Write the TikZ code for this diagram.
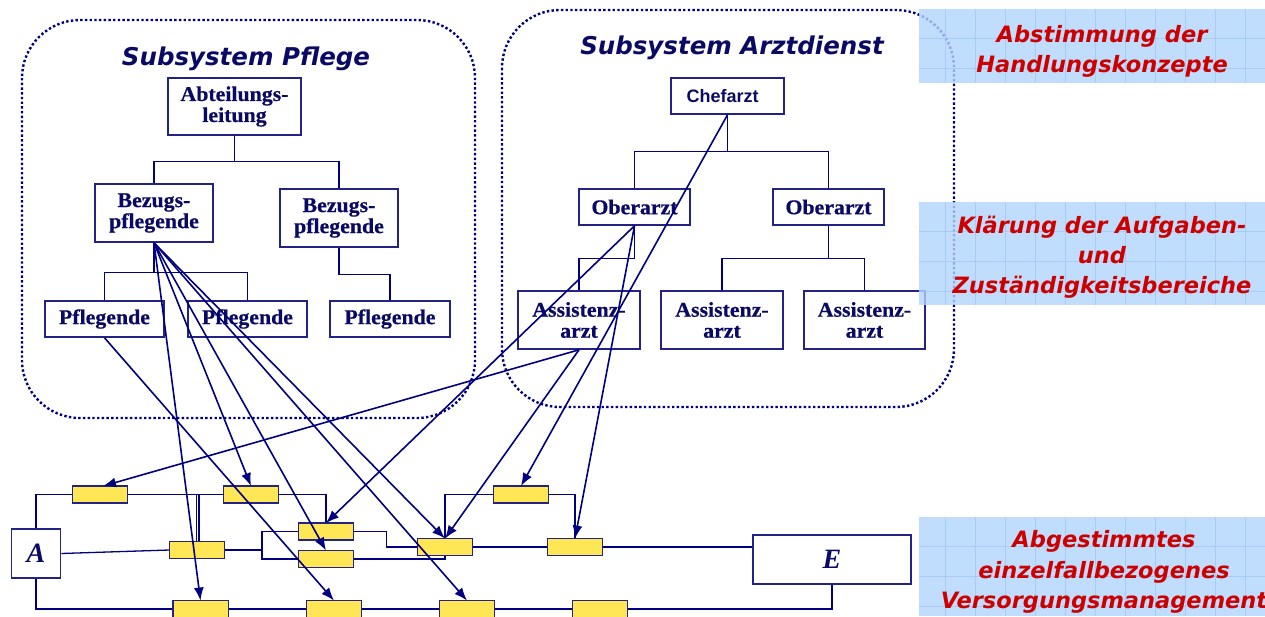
\documentclass[tikz,border=0pt]{standalone}
\usepackage{fontspec}
\setmainfont{Liberation Serif}
\newfontfamily\verd{DejaVu Sans}
\newfontfamily\arialf{Liberation Sans}
\newfontfamily\nodeserif[FakeStretch=1.04,FakeBold=0.6]{Liberation Serif}
\usetikzlibrary{arrows.meta}
\definecolor{navyl}{RGB}{0,0,128}
\definecolor{boxc}{RGB}{35,35,135}
\definecolor{txtc}{RGB}{10,10,100}
\definecolor{yel}{RGB}{255,230,85}
\definecolor{redt}{RGB}{205,0,0}
\definecolor{pan}{RGB}{178,212,252}
\definecolor{grd}{RGB}{158,196,245}
\begin{document}
\begin{tikzpicture}[x=1pt,y=-1pt,
  org/.style={draw=boxc, line width=1.6pt, fill=white, inner sep=0pt, align=center, text=txtc, font=\nodeserif\bfseries\fontsize{21}{21}\selectfont},
  pbox/.style={draw=boxc, line width=1.4pt, fill=yel, minimum width=54pt, minimum height=15.5pt, inner sep=0pt},
  conn/.style={draw=navyl, line width=1.3pt},
  arr/.style={draw=navyl, line width=1.6pt, -{Latex[length=13pt,width=10pt]}},
  dotbox/.style={draw=navyl, line width=2.4pt, dash pattern=on 2.4pt off 2.3pt, rounded corners=58pt},
  rtext/.style={text=redt, font=\verd\bfseries\itshape\fontsize{22.5}{30}\selectfont, anchor=base},
  ttl/.style={text=txtc, font=\verd\bfseries\itshape\fontsize{24.5}{28}\selectfont, anchor=base},
  term/.style={draw=boxc, line width=1.6pt, fill=white, inner sep=0pt, text=txtc, font=\bfseries\itshape\fontsize{28}{28}\selectfont}
]
\useasboundingbox (0,0) rectangle (1265,616);

% subsystem frames
\draw[dotbox] (22,20) rectangle (475,418);
\draw[dotbox] (502,10) rectangle (954,407);
\node[ttl] (tp) at (246,65) {Subsystem Pflege};
\node[ttl] (ta) at (732,54) {Subsystem Arztdienst};

% Pflege hierarchy
\node[org, minimum width=133pt, minimum height=57pt] (abt) at (234.5,106.5) {Abteilungs-\\leitung};
\node[org, minimum width=118pt, minimum height=58pt] (bz1) at (154,213) {Bezugs-\\pflegende};
\node[org, minimum width=118pt, minimum height=58pt] (bz2) at (339,218) {Bezugs-\\pflegende};
\node[org, minimum width=119pt, minimum height=36pt] (pf1) at (104.5,319) {Pflegende};
\node[org, minimum width=119pt, minimum height=36pt] (pf2) at (247.5,319) {Pflegende};
\node[org, minimum width=120pt, minimum height=36pt] (pf3) at (390,319) {Pflegende};
\draw[conn] (abt.south) -- ++(0,26) -| (bz1.north);
\draw[conn] (abt.south) -- ++(0,26) -| (bz2.north);
\draw[conn] (bz1.south) -- ++(0,30) -| (pf1.north);
\draw[conn] (bz1.south) -- ++(0,30) -| (pf2.north);
\draw[conn] (bz2.south) -- ++(0,27) -| (pf3.north);

% Arztdienst hierarchy
\node[org, minimum width=113pt, minimum height=36pt, font=\arialf\bfseries\fontsize{18}{18}\selectfont] (chef) at (727.5,96) {Chefarzt\hspace*{10pt}};
\node[org, minimum width=111pt, minimum height=36pt] (ob1) at (634.5,207) {Oberarzt};
\node[org, minimum width=111pt, minimum height=36pt] (ob2) at (828.5,207) {Oberarzt};
\node[org, minimum width=122pt, minimum height=58pt] (as1) at (579,320) {Assistenz-\\arzt};
\node[org, minimum width=122pt, minimum height=58pt] (as2) at (722,320) {Assistenz-\\arzt};
\node[org, minimum width=121pt, minimum height=58pt] (as3) at (864.5,320) {Assistenz-\\arzt};
\draw[conn] (chef.south) -- ++(0,37) -| (ob1.north);
\draw[conn] (chef.south) -- ++(0,37) -| (ob2.north);
\draw[conn] (ob1.south) -- ++(0,33) -| (as1.north);
\draw[conn] (ob2.south) -- ++(0,33) -| (as2.north);
\draw[conn] (ob2.south) -- ++(0,33) -| (as3.north);

% process network
\node[term, minimum width=49pt, minimum height=49pt] (A) at (36,553.5) {A};
\node[term, minimum width=158pt, minimum height=49pt] (E) at (832,559.5) {E};
\node[pbox] (t1) at (100,494.5) {};
\node[pbox] (t2) at (251,494.5) {};
\node[pbox] (t3) at (521,494.5) {};
\node[pbox] (m1) at (197,550) {};
\node[pbox] (m2) at (326,531.5) {};
\node[pbox] (m3) at (326,559) {};
\node[pbox] (r1) at (445,547) {};
\node[pbox] (r2) at (575,547) {};
\node[pbox] (b1) at (200.5,609) {};
\node[pbox] (b2) at (334,609) {};
\node[pbox] (b3) at (467,609) {};
\node[pbox] (b4) at (600,609) {};
\coordinate (j1) at (262,550);

\draw[conn] (A.north) |- (t1.west);
\draw[conn] (t1.east) -- (t2.west);
\draw[conn] (t2.east) -| (m2.north);
\draw[conn] ([xshift=-0.8pt]m1.north) -- ([xshift=-0.8pt]m1.north |- t1.east);
\draw[conn] ([xshift=2pt]m1.north) -- ([xshift=2pt]m1.north |- t1.east);
\draw[conn] (A.east) -- (m1.west);
\draw[conn] (m1.east) -- (j1);
\draw[conn] (m2.west) -| (j1);
\draw[conn] (m3.west) -| (j1);
\draw[conn] (m2.east) -- ++(33,0) |- (r1.west);
\draw[conn] (m3.east) -| (r1.south);
\draw[conn] (r1.east) -- (r2.west);
\draw[conn] (r2.east) -- (r2.east -| E.west);
\draw[conn] (t3.west) -| (r1.north);
\draw[conn] (t3.east) -| (r2.north);
\draw[conn] (A.south) |- (b1.west);
\draw[conn] (b1.east) -- (b2.west);
\draw[conn] (b2.east) -- (b3.west);
\draw[conn] (b3.east) -- (b4.west);
\draw[conn] (b4.east) -| (E.south);
% redraw yellow boxes above connectors
\foreach \n in {t1,t2,t3,m1,m2,m3,r1,r2,b1,b2,b3,b4}
  \draw[draw=boxc, line width=1.4pt, fill=yel] (\n.north west) rectangle (\n.south east);

% coordination arrows
\draw[arr] (bz1.south) -- (b1.north);
\draw[arr] (bz1.south) -- (t2.north);
\draw[arr] (bz1.south) -- (m3.north);
\draw[arr] (bz1.south) -- (b3.north);
\draw[arr] (bz1.south) -- (r1.north);
\draw[arr] (pf1.south) -- (b2.north);
\draw[arr] (as1.south) -- ([xshift=3pt]t1.north);
\draw[arr] (as1.south) -- (r1.north);
\draw[arr] (ob1.south) -- (m2.north);
\draw[arr] (ob1.south) -- (r2.north);
\draw[arr] (chef.south) -- (t3.north);

% side panels
\foreach \ya/\yb in {9/83,202/305,517/616} {
  \fill[pan, fill opacity=0.8] (919,\ya) rectangle (1265,\yb);
  \begin{scope}
    \clip (919,\ya) rectangle (1265,\yb);
    \foreach \gx in {945,975,...,1265}
      \draw[grd, line width=0.8pt, opacity=0.7] (\gx,\ya) -- (\gx,\yb);
    \foreach \k in {0,1,2,3}
      \draw[grd, line width=0.8pt, opacity=0.7] (919,{\ya+29+30*\k}) -- (1265,{\ya+29+30*\k});
  \end{scope}
}
\node[rtext] (p1a) at (1102,42) {Abstimmung der};
\node[rtext] (p1b) at (1102,72) {Handlungskonzepte};
\node[rtext] (p2a) at (1102,233) {Klärung der Aufgaben-};
\node[rtext] (p2b) at (1102,263) {und};
\node[rtext] (p2c) at (1102,293) {Zuständigkeitsbereiche};
\node[rtext] (p3a) at (1104,547) {Abgestimmtes};
\node[rtext] (p3b) at (1104,578) {einzelfallbezogenes};
\node[rtext] (p3c) at (1104,608) {Versorgungsmanagement};
\end{tikzpicture}
\end{document}
